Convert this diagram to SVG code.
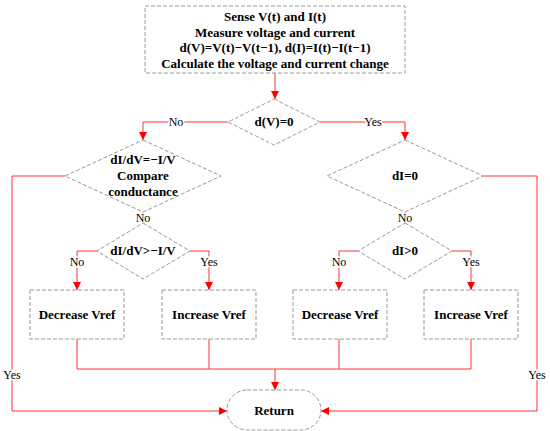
<svg xmlns="http://www.w3.org/2000/svg" width="550" height="431" viewBox="0 0 550 431">
<style>
.n{fill:#fff;stroke:#999;stroke-width:1;stroke-dasharray:4,2}
.t{font-family:"Liberation Serif","Times New Roman",serif;font-weight:bold;font-size:13px;fill:#000;text-anchor:middle}
.c{fill:none;stroke:#f33;stroke-width:1}
.l{font-family:"Liberation Serif","Times New Roman",serif;font-size:12px;fill:#000;text-anchor:middle;stroke:#fff;stroke-width:3;paint-order:stroke}
</style>
<defs>
<marker id="a" markerWidth="8" markerHeight="8" refX="8" refY="4" orient="auto" markerUnits="userSpaceOnUse">
<path d="M0,0L8,4L0,8Z" fill="#f00"/>
</marker>
</defs>
<g id="connectors">
<path class="c" d="M275,73V99" marker-end="url(#a)"/>
<path class="c" d="M228,122H143V140" marker-end="url(#a)"/>
<path class="c" d="M320,122H405V140" marker-end="url(#a)"/>
<path class="c" d="M143,212V223"/>
<path class="c" d="M405,212V223"/>
<path class="c" d="M97,251H77V290" marker-end="url(#a)"/>
<path class="c" d="M190,251H209V290" marker-end="url(#a)"/>
<path class="c" d="M358,251H339V290" marker-end="url(#a)"/>
<path class="c" d="M452,251H471V290" marker-end="url(#a)"/>
<path class="c" d="M77,339V369H471V339M209,339V369M339,339V369"/>
<path class="c" d="M275,369V390" marker-end="url(#a)"/>
<path class="c" d="M65,176H12V411H227" marker-end="url(#a)"/>
<path class="c" d="M483,176H537V411H321" marker-end="url(#a)"/>
<text class="l" x="176" y="126">No</text>
<text class="l" x="373" y="126">Yes</text>
<text class="l" x="143" y="222">No</text>
<text class="l" x="405" y="222">No</text>
<text class="l" x="77" y="266">No</text>
<text class="l" x="209" y="266">Yes</text>
<text class="l" x="339" y="266">No</text>
<text class="l" x="471" y="266">Yes</text>
<text class="l" x="12" y="379">Yes</text>
<text class="l" x="537" y="379">Yes</text>
</g>
<g id="start">
<rect class="n" x="145" y="6" width="260" height="67"/>
<text class="t" x="275" y="21">Sense V(t) and I(t)</text>
<text class="t" x="275" y="37">Measure voltage and current</text>
<text class="t" x="275" y="52">d(V)=V(t)−V(t−1), d(I)=I(t)−I(t−1)</text>
<text class="t" x="275" y="68">Calculate the voltage and current change</text>
</g>
<g id="dv0">
<path class="n" d="M274,99L320,122L274,145L228,122Z"/>
<text class="t" x="274" y="126">d(V)=0</text>
</g>
<g id="cond">
<path class="n" d="M143,140L221,176L143,212L65,176Z"/>
<text class="t" x="143" y="164">dI/dV=−I/V</text>
<text class="t" x="143" y="180">Compare</text>
<text class="t" x="143" y="196">conductance</text>
</g>
<g id="di0">
<path class="n" d="M405,140L483,176L405,212L327,176Z"/>
<text class="t" x="405" y="180">dI=0</text>
</g>
<g id="gt">
<path class="n" d="M143,223L190,251L143,279L97,251Z"/>
<text class="t" x="143" y="255">dI/dV&gt;−I/V</text>
</g>
<g id="digt">
<path class="n" d="M405,223L452,251L405,279L358,251Z"/>
<text class="t" x="405" y="255">dI&gt;0</text>
</g>
<g id="dec1">
<rect class="n" x="30" y="290" width="94" height="49"/>
<text class="t" x="77" y="319">Decrease Vref</text>
</g>
<g id="inc1">
<rect class="n" x="162" y="290" width="94" height="49"/>
<text class="t" x="209" y="319">Increase Vref</text>
</g>
<g id="dec2">
<rect class="n" x="293" y="290" width="94" height="49"/>
<text class="t" x="340" y="319">Decrease Vref</text>
</g>
<g id="inc2">
<rect class="n" x="424" y="290" width="94" height="49"/>
<text class="t" x="471" y="319">Increase Vref</text>
</g>
<g id="ret">
<rect class="n" x="227" y="390" width="94" height="40" rx="20" ry="20"/>
<text class="t" x="274" y="415">Return</text>
</g>
</svg>
